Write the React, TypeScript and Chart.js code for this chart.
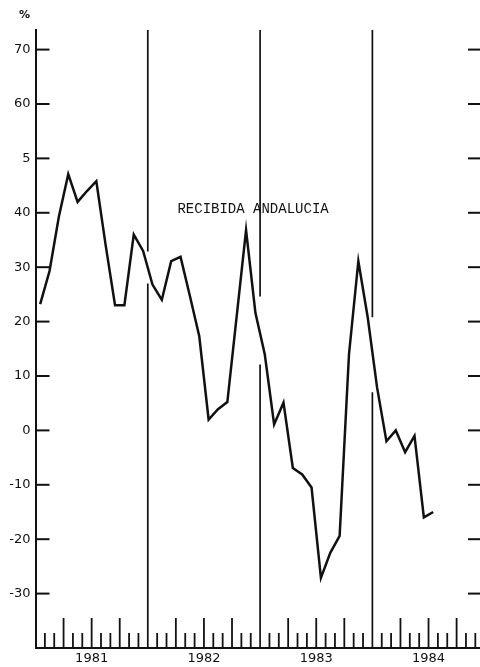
import React, { useEffect, useRef } from "react";
import { Chart, registerables } from "chart.js";

Chart.register(...registerables);

// ---- data ----
const YEARS = ["1981", "1982", "1983", "1984"];
const VALUES_1981 = [23.2, 29.3, 39.3, 47.1, 42.0, 44.0, 45.8, 34.0, 23.0, 23.0, 36.0, 33.0];
const VALUES_1982 = [26.8, 24.0, 31.1, 31.9, 24.7, 17.3, 2.0, 3.9, 5.2, 21.0, 36.8, 21.6];
const VALUES_1983 = [14.0, 1.1, 5.1, -6.9, -8.1, -10.5, -27.1, -22.5, -19.4, 14.0, 31.1, 20.8];
const VALUES_1984 = [7.9, -2.0, 0.0, -4.0, -1.0, -16.0, -15.0];
const SERIES = [...VALUES_1981, ...VALUES_1982, ...VALUES_1983, ...VALUES_1984];

const Y_TICK_VALUES = [-30, -20, -10, 0, 10, 20, 30, 40, 50, 60, 70];
const Y_TICK_LABELS = ["-30", "-20", "-10", "0", "10", "20", "30", "40", "5", "60", "70"];
const Y_MIN = -40;
const Y_MAX = 73.6;
const X_MAX = 47.5; // months visible
const DIVIDER_GAP_TOP = [32.9, 24.6, 20.8];
const DIVIDER_GAP_BOTTOM = [27.0, 12.1, 7.0];
const NOTE = "RECIBIDA ANDALUCIA";
const NOTE_AT = { x: 23.25, y: 40.7 };
const UNIT = "%";

const INK = "#111";

const decor = {
  id: "decor",
  beforeDatasetsDraw(chart: any) {
    const { ctx, chartArea } = chart;
    const xs = chart.scales.x;
    const ys = chart.scales.y;
    ctx.save();
    ctx.strokeStyle = INK;
    // month ticks on bottom axis
    ctx.lineWidth = 1.8;
    for (let m = 1; m < 48; m++) {
      if (m % 12 === 0) continue;
      const px = xs.getPixelForValue(m);
      if (px > chartArea.right) break;
      const len = m % 3 === 0 ? 30 : 15;
      ctx.beginPath();
      ctx.moveTo(px, chartArea.bottom);
      ctx.lineTo(px, chartArea.bottom - len);
      ctx.stroke();
    }
    // y ticks left and right
    ctx.lineWidth = 2;
    for (const v of Y_TICK_VALUES) {
      const py = ys.getPixelForValue(v);
      ctx.beginPath();
      ctx.moveTo(chartArea.left, py);
      ctx.lineTo(chartArea.left + 14, py);
      ctx.stroke();
      ctx.beginPath();
      ctx.moveTo(chartArea.right - 12, py);
      ctx.lineTo(chartArea.right, py);
      ctx.stroke();
    }
    // year dividers with gaps
    ctx.lineWidth = 1.7;
    for (let k = 1; k < YEARS.length; k++) {
      const px = xs.getPixelForValue(k * 12);
      const gTop = ys.getPixelForValue(DIVIDER_GAP_TOP[k - 1]);
      const gBot = ys.getPixelForValue(DIVIDER_GAP_BOTTOM[k - 1]);
      ctx.beginPath();
      ctx.moveTo(px, chartArea.top);
      ctx.lineTo(px, gTop);
      ctx.moveTo(px, gBot);
      ctx.lineTo(px, chartArea.bottom);
      ctx.stroke();
    }
    ctx.restore();
  },
  afterDraw(chart: any) {
    const { ctx, chartArea } = chart;
    const xs = chart.scales.x;
    const ys = chart.scales.y;
    ctx.save();
    ctx.fillStyle = INK;
    ctx.font = "14px 'Liberation Mono'";
    ctx.textAlign = "center";
    ctx.textBaseline = "middle";
    ctx.fillText(NOTE, xs.getPixelForValue(NOTE_AT.x), ys.getPixelForValue(NOTE_AT.y));
    ctx.font = "bold 11px 'DejaVu Sans'";
    ctx.fillText(UNIT, chartArea.left - 11, chartArea.top - 15);
    ctx.restore();
  },
};

export default function App() {
  const ref = useRef<HTMLCanvasElement | null>(null);
  useEffect(() => {
    if (!ref.current) return;
    const chart = new Chart(ref.current, {
      type: "line",
      data: {
        datasets: [
          {
            data: SERIES.map((v, i) => ({ x: i + 0.5, y: v })),
            borderColor: INK,
            borderWidth: 2.5,
            borderJoinStyle: "miter",
            pointRadius: 0,
            tension: 0,
            fill: false,
          },
        ],
      },
      options: {
        animation: false,
        responsive: false,
        devicePixelRatio: 1,
        layout: { padding: { top: 30, left: 0, right: 0, bottom: 0 } },
        plugins: { legend: { display: false }, tooltip: { enabled: false }, title: { display: false } },
        scales: {
          x: {
            type: "linear",
            min: 0,
            max: X_MAX,
            afterFit: (s: any) => {
              s.height = 19;
            },
            afterBuildTicks: (s: any) => {
              s.ticks = YEARS.map((_, i) => ({ value: i * 12 + 6 }));
            },
            ticks: {
              autoSkip: false,
              maxRotation: 0,
              padding: 3,
              color: INK,
              font: { family: "'DejaVu Sans'", size: 13 },
              callback: (v: any) => YEARS[Math.round((Number(v) - 6) / 12)] ?? "",
            },
            grid: { display: false, drawTicks: false },
            border: { display: true, color: INK, width: 2 },
          },
          y: {
            type: "linear",
            min: Y_MIN,
            max: Y_MAX,
            afterFit: (s: any) => {
              s.width = 35.5;
            },
            afterBuildTicks: (s: any) => {
              s.ticks = Y_TICK_VALUES.map((v) => ({ value: v }));
            },
            ticks: {
              autoSkip: false,
              padding: 5,
              color: INK,
              font: { family: "'DejaVu Sans'", size: 13 },
              callback: (v: any) => {
                const idx = Y_TICK_VALUES.indexOf(Number(v));
                return idx >= 0 ? Y_TICK_LABELS[idx] : "";
              },
            },
            grid: { display: false, drawTicks: false },
            border: { display: true, color: INK, width: 2 },
          },
        },
      },
      plugins: [decor],
    } as any);
    return () => chart.destroy();
  }, []);
  return (
    <div style={{ position: "absolute", left: 0, top: 0, width: 480, height: 667, background: "#fff" }}>
      <canvas ref={ref} width={480} height={667} style={{ display: "block" }} />
    </div>
  );
}
